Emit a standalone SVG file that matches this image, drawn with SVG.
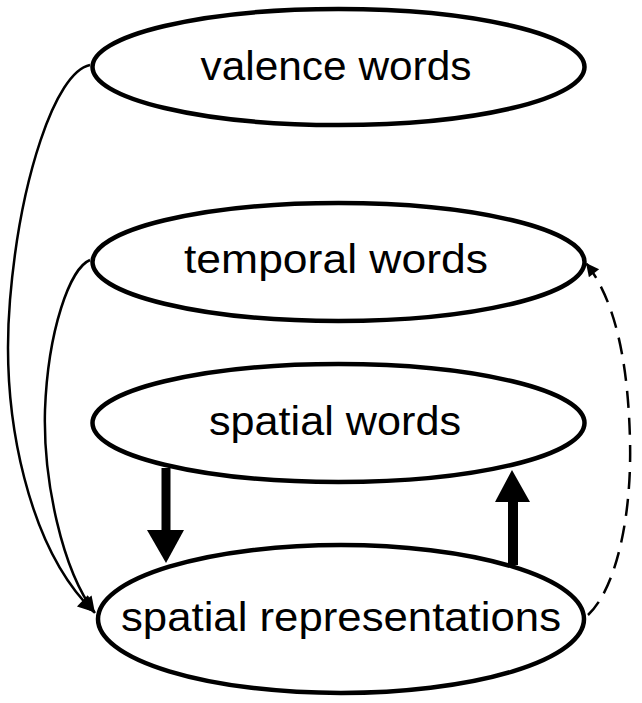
<svg xmlns="http://www.w3.org/2000/svg" width="642" height="703" viewBox="0 0 642 703">
<style>
.node ellipse{fill:#fff;stroke:#000;stroke-width:4.5}
.node text{font-family:"Liberation Sans","Open Sans",sans-serif;font-size:40px;fill:#000;text-anchor:middle}
.thin{fill:none;stroke:#000;stroke-width:2.5}
.dash{fill:none;stroke:#000;stroke-width:2.5;stroke-dasharray:17 10}
.thick{stroke:#000;stroke-width:9}
</style>
<defs>
<marker id="ah" viewBox="0 0 10 10" refX="10" refY="5" markerWidth="20" markerHeight="16" markerUnits="userSpaceOnUse" orient="auto">
<path d="M0,0 L10,5 L0,10 z" fill="#000"/>
</marker>
<marker id="ahs" viewBox="0 0 10 10" refX="10" refY="5" markerWidth="16" markerHeight="13" markerUnits="userSpaceOnUse" orient="auto">
<path d="M0,0 L10,5 L0,10 z" fill="#000"/>
</marker>
</defs>
<g id="connectors">
<path class="thin" d="M90,65 C55,72 20,180 10,300 C0,420 30,550 94,612" marker-end="url(#ah)"/>
<path class="thin" d="M90,260 C70,268 48,330 45,410 C43,480 62,570 95,613" marker-end="url(#ah)"/>
<path class="dash" d="M588,615 C615,590 632,520 630,440 C628,360 615,300 586,263" marker-end="url(#ahs)"/>
<line class="thick" x1="166" y1="468" x2="166" y2="532"/>
<polygon points="147,530 184,530 166,563" fill="#000"/>
<line class="thick" x1="513" y1="500" x2="513" y2="565" style="stroke-width:10"/>
<polygon points="495,502 530,502 512,470" fill="#000"/>
</g>
<g id="valence" class="node">
<ellipse cx="338.5" cy="67" rx="246" ry="58"/>
<text x="336" y="80" textLength="271" lengthAdjust="spacingAndGlyphs">valence words</text>
</g>
<g id="temporal" class="node">
<ellipse cx="338.5" cy="262" rx="246" ry="59"/>
<text x="336" y="273" textLength="304" lengthAdjust="spacingAndGlyphs">temporal words</text>
</g>
<g id="spatial" class="node">
<ellipse cx="338.5" cy="423" rx="246" ry="59"/>
<text x="335" y="435" textLength="252" lengthAdjust="spacingAndGlyphs">spatial words</text>
</g>
<g id="representations" class="node">
<ellipse cx="341" cy="619" rx="243" ry="74"/>
<text x="341" y="631" textLength="440" lengthAdjust="spacingAndGlyphs">spatial representations</text>
</g>
</svg>
